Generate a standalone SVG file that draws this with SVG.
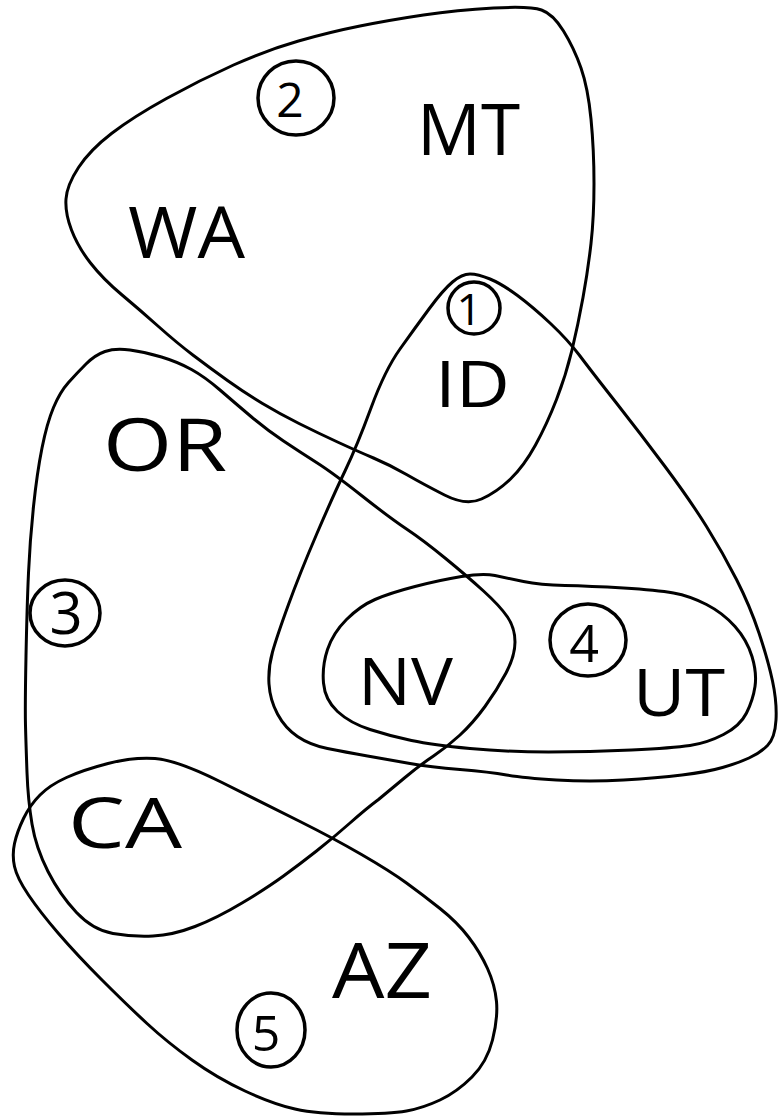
<svg xmlns="http://www.w3.org/2000/svg" width="780" height="1118" viewBox="0 0 780 1118">
<style>
.set{fill:none;stroke:#000;stroke-width:3;stroke-linejoin:round;stroke-linecap:round}
.ring{fill:none;stroke:#000;stroke-width:3.5}
.lbl{font-family:"Open Sans","Liberation Sans","DejaVu Sans",sans-serif;font-weight:400;fill:#000}
.num{font-family:"Open Sans","Liberation Sans","DejaVu Sans",sans-serif;font-weight:400;fill:#000;text-anchor:middle}
</style>
<rect width="780" height="1118" fill="#fff"/>
<g id="set2">
<path class="set" d="M 493.5,8 Q 530,6 541.5,10 Q 553,14 563.5,31 Q 574,48 581,68 Q 588,88 591,119 Q 594,150 594,183.5 Q 594,217 591,243.5 Q 588,270 583,297.5 Q 578,325 572,350 Q 566,375 556.5,399.5 Q 547,424 535.5,445 Q 524,466 510.5,479 Q 497,492 481.5,499 Q 466,506 444.5,495 Q 423,484 406.5,474.5 Q 390,465 373.5,458 Q 357,451 337.5,442 Q 318,433 299,423.5 Q 280,414 262.5,403.5 Q 245,393 227.5,380.5 Q 210,368 193.5,355.5 Q 177,343 158.5,326.5 Q 140,310 121.5,294.5 Q 103,279 90.5,263 Q 78,247 71.5,230 Q 65,213 66,199 Q 67,185 78.5,167.5 Q 90,150 111.5,133.5 Q 133,117 166.5,98.5 Q 200,80 233.5,65 Q 267,50 298.5,41 Q 330,32 360,26 Q 390,20 423.5,15 Q 457,10 493.5,8 Z"/>
<ellipse class="ring" cx="296" cy="98" rx="38" ry="37"/>
<text class="num" x="290" y="117" font-size="48">2</text>
</g>
<g id="set1">
<path class="set" d="M 452.5,282 Q 462,274 470,274 Q 478,274 490,279 Q 502,284 517.5,295.5 Q 533,307 550.5,323.5 Q 568,340 580,356 Q 592,372 616,402.5 Q 640,433 665,466.5 Q 690,500 706.5,526.5 Q 723,553 736.5,579.5 Q 750,606 759,633 Q 768,660 772.5,681 Q 777,702 776,720 Q 775,738 767.5,745.5 Q 760,753 749,758 Q 738,763 722.5,767.5 Q 707,772 682,775 Q 657,778 623.5,780 Q 590,782 556.5,780 Q 523,778 506.5,775 Q 490,772 460,769.5 Q 430,767 410,763.5 Q 390,760 367.5,756 Q 345,752 327.5,748.5 Q 310,745 297.5,736.5 Q 285,728 277.5,714 Q 270,700 269,684 Q 268,668 272.5,652 Q 277,636 288.5,604.5 Q 300,573 316.5,534.5 Q 333,496 345,471 Q 357,446 371,408 Q 385,370 400,349 Q 415,328 429,309 Q 443,290 452.5,282 Z"/>
<circle class="ring" cx="474" cy="308" r="26"/>
<text class="num" x="469" y="325" font-size="44">1</text>
</g>
<g id="set3">
<path class="set" d="M 68.5,382.5 Q 77,373 86,364 Q 95,355 105,351.5 Q 115,348 130,350 Q 145,352 161.5,357 Q 178,362 191.5,369.5 Q 205,377 220,390 Q 235,403 251,416.5 Q 267,430 283.5,441 Q 300,452 316.5,462.5 Q 333,473 361.5,495.5 Q 390,518 406.5,529 Q 423,540 445,558 Q 467,576 483.5,591 Q 500,606 507.5,617 Q 515,628 515,642 Q 515,656 506,673 Q 497,690 485,706.5 Q 473,723 460,735 Q 447,747 433.5,756 Q 420,765 405,777.5 Q 390,790 378.5,799.5 Q 367,808 350,823 Q 333,838 316.5,851 Q 300,864 283.5,876 Q 267,888 242,903 Q 217,918 195,926.5 Q 173,935 153,936 Q 133,937 113,933.5 Q 93,930 76.5,912.5 Q 60,895 48,871.5 Q 36,848 32,824 Q 28,800 27,772.5 Q 26,745 25.5,725.5 Q 25,706 26,656 Q 27,606 28.5,573 Q 30,540 33.5,506.5 Q 37,473 42,448 Q 47,423 53.5,407.5 Q 60,392 68.5,382.5 Z"/>
<ellipse class="ring" cx="65" cy="613" rx="35" ry="33"/>
<text class="num" x="66" y="634" font-size="58">3</text>
</g>
<g id="set4">
<path class="set" d="M 375,599.5 Q 390,593 415,586.5 Q 440,580 461.5,576.5 Q 483,573 495,575.5 Q 507,578 523.5,581.5 Q 540,585 565,585.5 Q 590,586 623.5,588 Q 657,590 673.5,593 Q 690,596 706.5,604.5 Q 723,613 735,626.5 Q 747,640 752,656.5 Q 757,673 755,686.5 Q 753,700 746.5,713 Q 740,726 723.5,734.5 Q 707,743 690,745.5 Q 673,748 631.5,750 Q 590,752 548.5,752 Q 507,752 470,748.5 Q 433,745 411.5,740.5 Q 390,736 370,729.5 Q 350,723 337.5,711.5 Q 325,700 323.5,683 Q 322,666 327.5,649.5 Q 333,633 346.5,619.5 Q 360,606 375,599.5 Z"/>
<ellipse class="ring" cx="588" cy="640" rx="38" ry="36"/>
<text class="num" x="584" y="662" font-size="52">4</text>
</g>
<g id="set5">
<path class="set" d="M 108,763.5 Q 133,757 155,758.5 Q 177,760 222,782.5 Q 267,805 300,821.5 Q 333,838 361.5,854.5 Q 390,871 406.5,883 Q 423,895 440,908.5 Q 457,922 468.5,937 Q 480,952 487.5,968.5 Q 495,985 496.5,1001.5 Q 498,1018 492.5,1040 Q 487,1062 472,1077 Q 457,1092 440,1100 Q 423,1108 406.5,1111 Q 390,1114 353.5,1114 Q 317,1114 295,1109 Q 273,1104 245,1091 Q 217,1078 192,1060 Q 167,1042 147,1023.5 Q 127,1005 102,980 Q 77,955 58.5,933.5 Q 40,912 28.5,895 Q 17,878 14.5,866.5 Q 12,855 14.5,843.5 Q 17,832 23.5,818.5 Q 30,805 40,795 Q 50,785 66.5,777.5 Q 83,770 108,763.5 Z"/>
<ellipse class="ring" cx="271" cy="1030" rx="34" ry="37"/>
<text class="num" x="266" y="1051" font-size="50">5</text>
</g>
<g id="states">
<g id="MT"><text class="lbl" x="417" y="155" font-size="72" textLength="103" lengthAdjust="spacingAndGlyphs">MT</text></g>
<g id="WA"><text class="lbl" x="128" y="258" font-size="72" textLength="117" lengthAdjust="spacingAndGlyphs">WA</text></g>
<g id="ID"><text class="lbl" x="435" y="407" font-size="64" textLength="75" lengthAdjust="spacingAndGlyphs">ID</text></g>
<g id="OR"><text class="lbl" x="103" y="471" font-size="74" textLength="124" lengthAdjust="spacingAndGlyphs">OR</text></g>
<g id="NV"><text class="lbl" x="358" y="705" font-size="66" textLength="95" lengthAdjust="spacingAndGlyphs">NV</text></g>
<g id="UT"><text class="lbl" x="633" y="716" font-size="66" textLength="92" lengthAdjust="spacingAndGlyphs">UT</text></g>
<g id="CA"><text class="lbl" x="68" y="848" font-size="70" textLength="114" lengthAdjust="spacingAndGlyphs">CA</text></g>
<g id="AZ"><text class="lbl" x="332" y="998" font-size="76" textLength="100" lengthAdjust="spacingAndGlyphs">AZ</text></g>
</g>
</svg>
